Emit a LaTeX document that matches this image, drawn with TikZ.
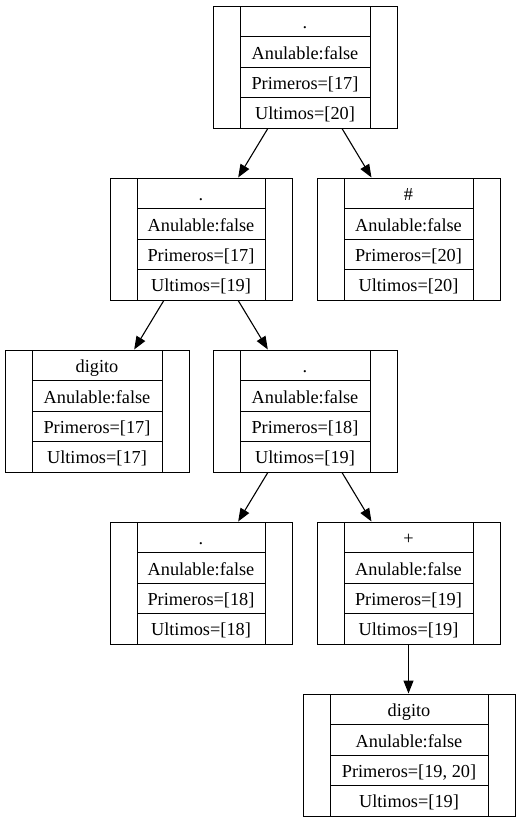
\documentclass[tikz,border=0pt]{standalone}
\usepackage{fontspec}
\setmainfont{Liberation Serif}
\usetikzlibrary{arrows.meta}
\tikzset{
  recbox/.style={draw, line width=1pt, inner sep=0pt, minimum height=122},
  rectext/.style={inner sep=0pt, font=\fontsize{18.3}{20}\selectfont, anchor=base},
  recline/.style={line width=1pt},
  edge/.style={line width=1.1pt, -{Triangle[length=13pt,width=10pt]}}
}
\newcommand{\recnode}[8]{%
  \node[recbox, minimum width={#3-#2}] (#1) at ({(#2+#3)/2},{#4+61}) {};
  \draw[recline] ({#2+27},#4) -- ({#2+27},{#4+122});
  \draw[recline] ({#3-27},#4) -- ({#3-27},{#4+122});
  \draw[recline] ({#2+27},{#4+30.5}) -- ({#3-27},{#4+30.5});
  \draw[recline] ({#2+27},{#4+61}) -- ({#3-27},{#4+61});
  \draw[recline] ({#2+27},{#4+91.5}) -- ({#3-27},{#4+91.5});
  \node[rectext] (#1-a) at ({(#2+#3)/2},{#4+22}) {#5};
  \node[rectext] (#1-b) at ({(#2+#3)/2},{#4+53}) {#6};
  \node[rectext] (#1-c) at ({(#2+#3)/2},{#4+83.5}) {#7};
  \node[rectext] (#1-d) at ({(#2+#3)/2},{#4+113.5}) {#8};
}
\begin{document}
\begin{tikzpicture}[x=1pt,y=-1pt]
\useasboundingbox (0,0) rectangle (521,823);
\recnode{n1}{213}{397}{6}{.}{Anulable:false}{Primeros=[17]}{Ultimos=[20]}
\recnode{n2}{110}{292}{178}{.}{Anulable:false}{Primeros=[17]}{Ultimos=[19]}
\recnode{n3}{317}{500}{178}{\#}{Anulable:false}{Primeros=[20]}{Ultimos=[20]}
\recnode{n4}{5}{189}{350}{digito}{Anulable:false}{Primeros=[17]}{Ultimos=[17]}
\recnode{n5}{213}{397}{350}{.}{Anulable:false}{Primeros=[18]}{Ultimos=[19]}
\recnode{n6}{110}{292}{522}{.}{Anulable:false}{Primeros=[18]}{Ultimos=[18]}
\recnode{n7}{317}{500}{522}{+}{Anulable:false}{Primeros=[19]}{Ultimos=[19]}
\recnode{n8}{303}{515}{694}{digito}{Anulable:false}{Primeros=[19, 20]}{Ultimos=[19]}
\draw[edge] (n1) -- (n2);
\draw[edge] (n1) -- (n3);
\draw[edge] (n2) -- (n4);
\draw[edge] (n2) -- (n5);
\draw[edge] (n5) -- (n6);
\draw[edge] (n5) -- (n7);
\draw[edge] (n7.south) -- (n8.north -| n7.south);
\end{tikzpicture}
\end{document}
